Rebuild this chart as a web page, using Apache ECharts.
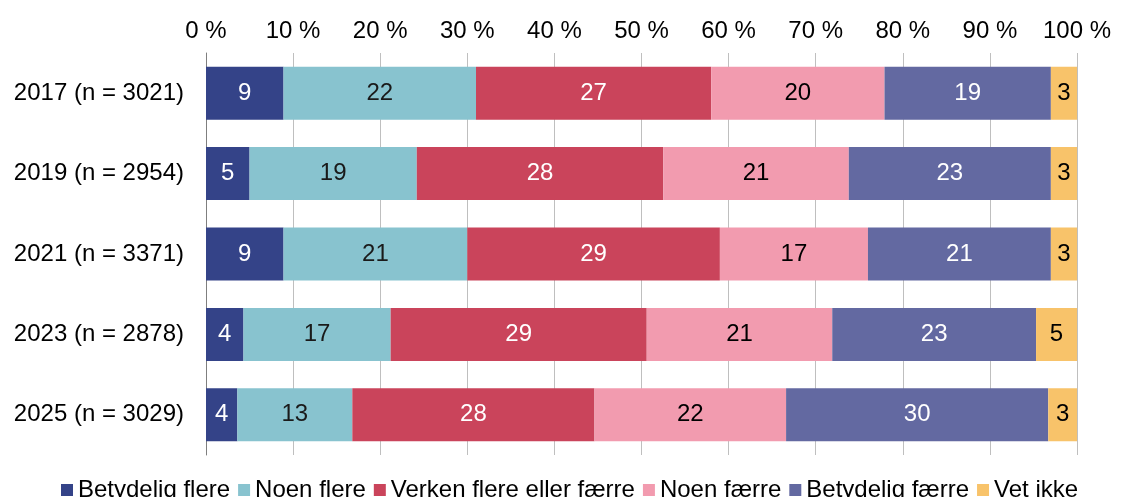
<!DOCTYPE html>
<html>
<head>
<meta charset="utf-8">
<script src="https://cdn.jsdelivr.net/npm/echarts@6/dist/echarts.min.js"></script>
<style>
html,body{margin:0;padding:0;background:#fff;}
#chart{width:1121px;height:497px;}
</style>
</head>
<body>
<div id="chart"></div>
<script>
const categories = ['2017 (n = 3021)', '2019 (n = 2954)', '2021 (n = 3371)', '2023 (n = 2878)', '2025 (n = 3029)'];
const seriesNames = ['Betydelig flere', 'Noen flere', 'Verken flere eller færre', 'Noen færre', 'Betydelig færre', 'Vet ikke'];
const betydeligFlere = [8.9, 5.0, 8.9, 4.3, 3.6];
const noenFlere = [22.1, 19.2, 21.1, 16.9, 13.2];
const verken = [27.0, 28.3, 29.0, 29.4, 27.8];
const noenFaerre = [19.9, 21.3, 17.0, 21.3, 22.0];
const betydeligFaerre = [19.1, 23.2, 21.0, 23.4, 30.1];
const vetIkke = [3.0, 3.0, 3.0, 4.7, 3.3];
const xTicks = [0, 10, 20, 30, 40, 50, 60, 70, 80, 90, 100];

const seriesData = [betydeligFlere, noenFlere, verken, noenFaerre, betydeligFaerre, vetIkke];
const colors = ['#344388', '#88C3CF', '#CA445B', '#F29BAF', '#6369A1', '#F8C36A'];
const labelColors = ['#ffffff', '#1a1a1a', '#ffffff', '#000000', '#ffffff', '#000000'];
const FONT = '"Liberation Sans", Arial, sans-serif';

const chart = echarts.init(document.getElementById('chart'), null, {renderer: 'canvas'});
chart.setOption({
  animation: false,
  backgroundColor: '#ffffff',
  textStyle: {fontFamily: FONT},
  grid: {left: 206, right: 44, top: 53, height: 402, containLabel: false},
  legend: {
    data: seriesNames,
    left: 61, top: 478, padding: 0,
    icon: 'rect', itemWidth: 12, itemHeight: 12, itemGap: 8,
    textStyle: {fontSize: 24, color: '#000', fontFamily: FONT}
  },
  xAxis: {
    type: 'value', position: 'top',
    min: xTicks[0], max: xTicks[xTicks.length - 1], interval: xTicks[1] - xTicks[0],
    axisLine: {show: false}, axisTick: {show: false},
    axisLabel: {formatter: '{value} %', fontSize: 24, color: '#000', margin: 10, fontFamily: FONT},
    splitLine: {show: true, lineStyle: {color: '#BFBFBF', width: 1}}
  },
  yAxis: {
    type: 'category', inverse: true, data: categories,
    axisLine: {show: true, lineStyle: {color: '#7F7F7F', width: 1}},
    axisTick: {show: false},
    axisLabel: {fontSize: 24, color: '#000', margin: 22, fontFamily: FONT}
  },
  series: seriesNames.map((name, i) => ({
    name: name, type: 'bar', stack: 'total', barWidth: 53,
    itemStyle: {color: colors[i]},
    label: {
      show: true, position: 'inside', fontSize: 24, color: labelColors[i], fontFamily: FONT,
      formatter: p => Math.round(p.value)
    },
    data: seriesData[i]
  }))
});
</script>
</body>
</html>
